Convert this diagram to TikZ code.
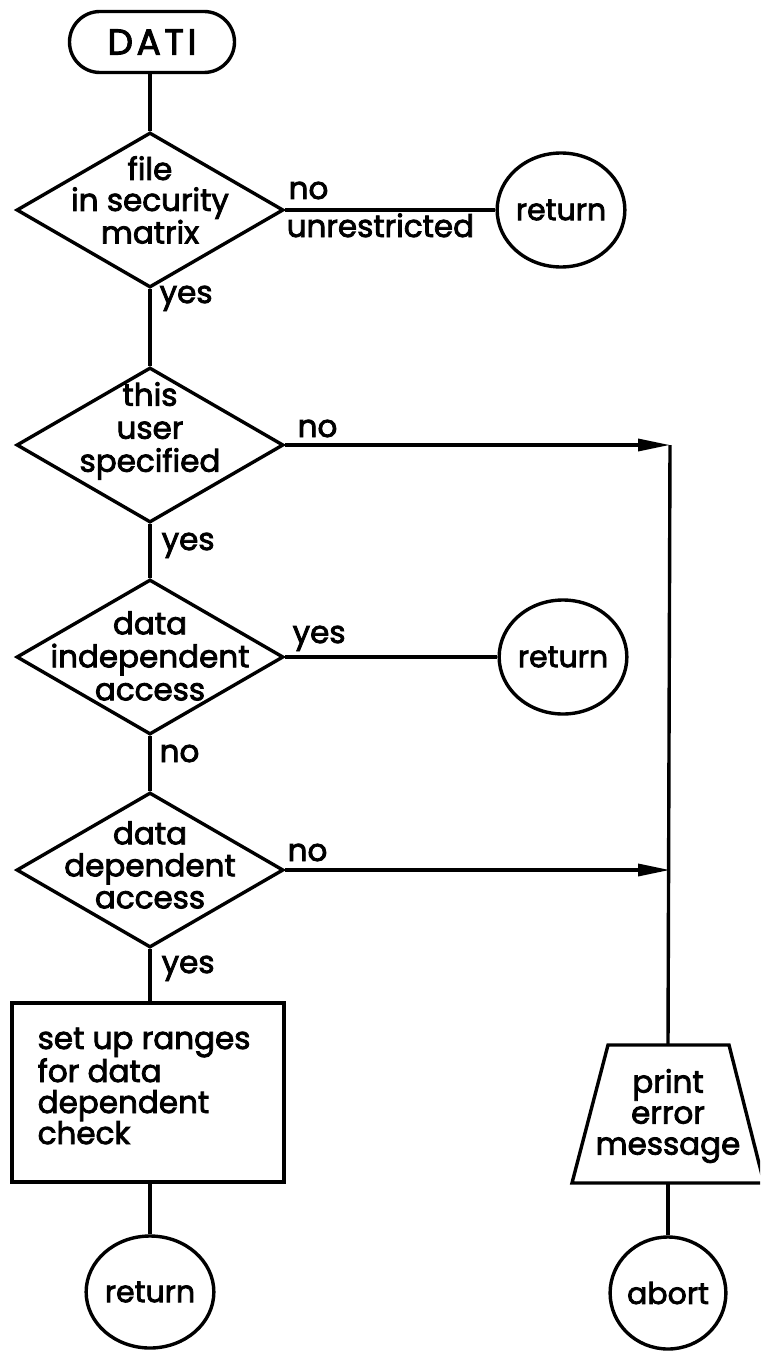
\documentclass[tikz,border=0pt]{standalone}
\usepackage{fontspec}
\setmainfont{Poppins}[FakeBold=2.6]
\newfontfamily\titlefont{Poppins}[FakeBold=2.6,LetterSpace=10]
\usetikzlibrary{shapes.geometric,shapes.misc,arrows.meta}
\begin{document}
\begin{tikzpicture}[x=1pt,y=-1pt,line width=3.4pt,
  every node/.style={font=\fontsize{31}{31}\selectfont},
  dec/.style={draw,diamond,minimum width=267pt,minimum height=155pt,inner sep=0pt},
  dtext/.style={align=center,inner sep=0pt},
  term/.style={draw,ellipse,minimum width=114pt,minimum height=114pt,inner sep=0pt,font=\fontsize{30}{31}\selectfont},
  lbl/.style={anchor=base west,inner sep=0pt},
  arr/.style={-{Triangle[length=32pt,width=12pt]}}]
\path[use as bounding box] (0,0) rectangle (760,1351);
\clip (0,0) rectangle (760,1351);
% nodes
\node[draw,rounded rectangle,minimum width=165pt,minimum height=61pt,inner sep=0pt,font=\titlefont\fontsize{36}{36}\selectfont] (start) at (152,42) {DATI};
\node[dec] (d1) at (150,210) {};
\node[dtext] (d1t) at (150,200) {file\\in security\\matrix};
\node[term] (r1) at (561,210) {return};
\node[dec] (d2) at (150,445) {};
\node[dtext,font=\fontsize{31}{33}\selectfont] (d2t) at (150,431) {this\\user\\specified};
\node[dec] (d3) at (150,657) {};
\node[dtext,font=\fontsize{31}{33}\selectfont] (d3t) at (150,656) {data\\independent\\access};
\node[term] (r2) at (563,657) {return};
\node[dec] (d4) at (150,870) {};
\node[dtext,font=\fontsize{31}{32}\selectfont] (d4t) at (150,865) {data\\dependent\\access};
\node[draw,minimum width=272pt,minimum height=179pt,inner sep=0pt] (box) at (148,1092.5) {};
\node[align=left,anchor=north west,inner sep=0pt] (boxt) at (36,1026) {set up ranges\\for data\\dependent\\check};
\node[term,minimum width=102pt,minimum height=112pt] (r3) at (150,1292) {return};
% trapezoid (print error message)
\coordinate (pen) at (668,1045);
\coordinate (pes) at (668,1183);
\draw[line join=miter] (608,1045) -- (729,1045) -- (764,1183) -- (572,1183) -- cycle;
\node[align=center,inner sep=0pt] (pet) at (668,1116) {print\\error\\message};
\node[term,minimum width=104pt,minimum height=112pt] (ab) at (668,1293) {abort};
\coordinate (j1) at (670,445);
\coordinate (j2) at (670,870);
% labels
\node[lbl] (l1n) at (287,199) {no};
\node[lbl] (l1u) at (285,237) {unrestricted};
\node[lbl] (l1y) at (158,303) {yes};
\node[lbl] (l2n) at (296,437) {no};
\node[lbl] (l2y) at (160,550) {yes};
\node[lbl] (l3y) at (291,643) {yes};
\node[lbl] (l3n) at (158,762) {no};
\node[lbl] (l4n) at (286,861) {no};
\node[lbl] (l4y) at (160,973) {yes};
% connectors
\draw (start.south -| d1.north) -- (d1.north);
\draw (d1.east) -- (r1.west);
\draw (d1.south) -- (d2.north);
\draw[arr] (d2.east) -- (j1);
\draw (d2.south) -- (d3.north);
\draw (d3.east) -- (r2.west);
\draw (d3.south) -- (d4.north);
\draw[arr] (d4.east) -- (j2);
\draw (d4.south) -- (box.north -| d4.south);
\draw (box.south -| r3.north) -- (r3.north);
\draw (j1) -- (pen);
\draw (pes) -- (ab.north);
\end{tikzpicture}
\end{document}
